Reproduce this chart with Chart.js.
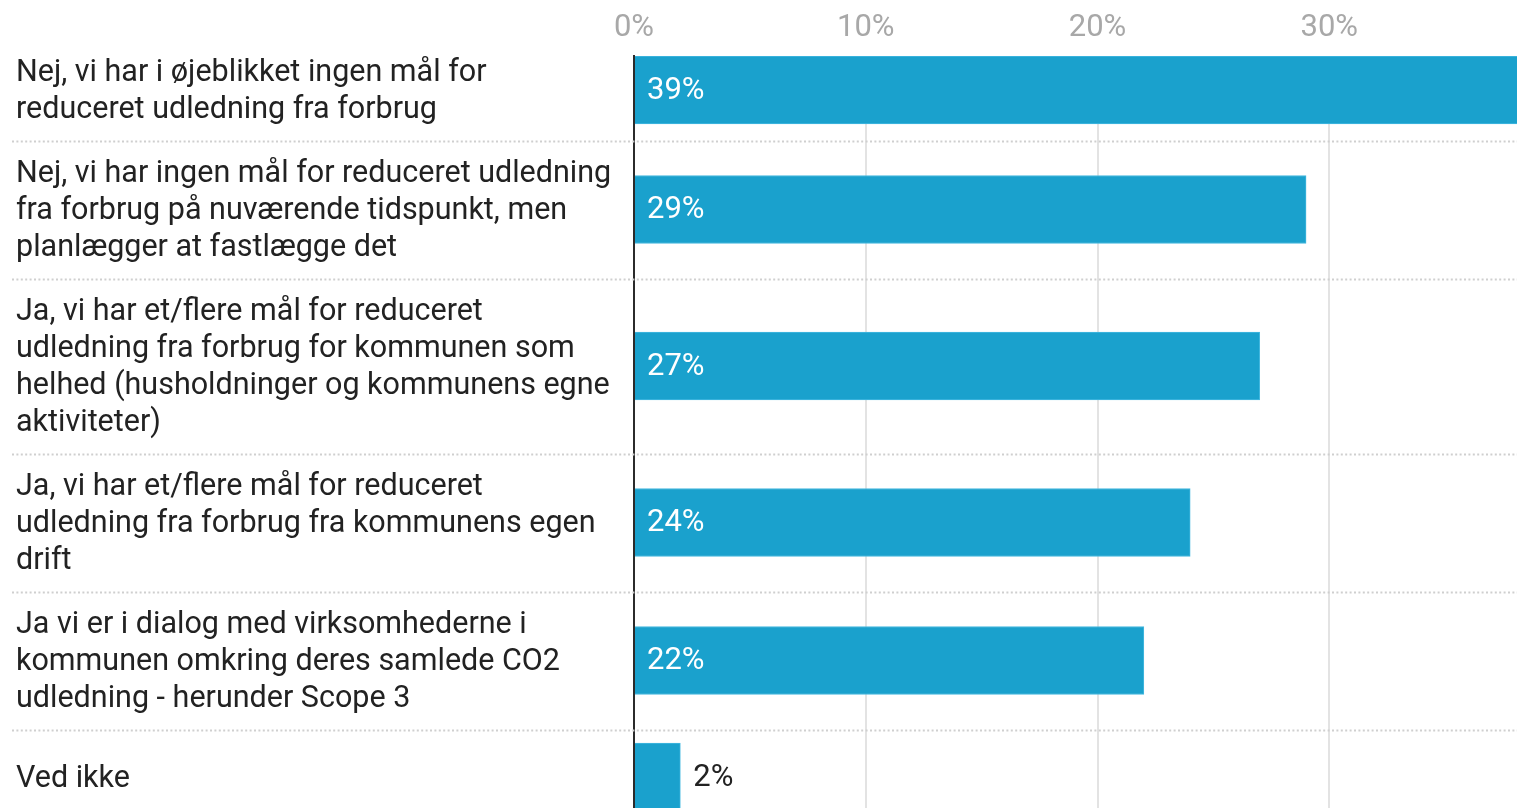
<!DOCTYPE html>
<html>
<head>
<meta charset="utf-8">
<script src="https://cdn.jsdelivr.net/npm/chart.js@4/dist/chart.umd.min.js"></script>
<style>
html, body { margin: 0; padding: 0; background: #fff; overflow: hidden; }
#wrap { width: 1600px; height: 808px; position: relative; }
</style>
</head>
<body>
<div id="wrap"><canvas id="grafico"></canvas></div>
<script>
// svarmuligheder, allerede delt op i linjer
const svar = [
    ["Nej, vi har i øjeblikket ingen mål for", "reduceret udledning fra forbrug"],
    ["Nej, vi har ingen mål for reduceret udledning", "fra forbrug på nuværende tidspunkt, men", "planlægger at fastlægge det"],
    ["Ja, vi har et/flere mål for reduceret", "udledning fra forbrug for kommunen som", "helhed (husholdninger og kommunens egne", "aktiviteter)"],
    ["Ja, vi har et/flere mål for reduceret", "udledning fra forbrug fra kommunens egen", "drift"],
    ["Ja vi er i dialog med virksomhederne i", "kommunen omkring deres samlede CO2", "udledning - herunder Scope 3"],
    ["Ved ikke"]
];
const andele = [39, 29, 27, 24, 22, 2];
const akseTicks = [0, 10, 20, 30, 40];

const linjeHoejde = 37;
const barHoejde = 68;
const raekkeLuft = 27;
const aksePlads = 56;

// højden på hver række følger antal tekstlinjer
var graenser = [0];
var midter = [];
svar.forEach(function (linjer) {
    const h = Math.max(linjer.length * linjeHoejde, barHoejde) + raekkeLuft;
    const top = graenser[graenser.length - 1];
    midter.push(top + h / 2);
    graenser.push(top + h);
});
const yMin = midter[0] - barHoejde / 2;
const yMax = yMin + 808 - aksePlads;

const skrift = "Roboto, 'Open Sans', sans-serif";

// skillelinjer mellem rækkerne + teksterne til venstre
const raekker = {
    id: 'raekker',
    beforeDatasetsDraw(chart) {
        const ctx = chart.ctx;
        const y = chart.scales.y;
        ctx.save();
        ctx.strokeStyle = '#cfcfcf';
        ctx.lineWidth = 2;
        ctx.setLineDash([2, 2.4]);
        for (let i = 1; i < graenser.length - 1; i++) {
            const py = Math.round(y.getPixelForValue(graenser[i])) + 0.5;
            ctx.beginPath();
            ctx.moveTo(12, py);
            ctx.lineTo(chart.width, py);
            ctx.stroke();
        }
        ctx.restore();
    },
    afterDraw(chart) {
        const ctx = chart.ctx;
        const y = chart.scales.y;
        ctx.save();
        ctx.font = '30.5px ' + skrift;
        ctx.fillStyle = '#222222';
        ctx.textBaseline = 'middle';
        ctx.textAlign = 'left';
        svar.forEach(function (linjer, i) {
            const cy = y.getPixelForValue(midter[i]) + 2;
            linjer.forEach(function (l, j) {
                ctx.fillText(l, 16, cy + (j - (linjer.length - 1) / 2) * linjeHoejde);
            });
        });
        ctx.restore();
    }
};

// procenttal på søjlerne
const vaerdier = {
    id: 'vaerdier',
    afterDatasetsDraw(chart) {
        const ctx = chart.ctx;
        const meta = chart.getDatasetMeta(0);
        ctx.save();
        ctx.font = '31px ' + skrift;
        ctx.textBaseline = 'middle';
        ctx.textAlign = 'left';
        meta.data.forEach(function (bar, i) {
            const tekst = andele[i] + '%';
            if (andele[i] >= 5) {
                ctx.fillStyle = '#ffffff';
                ctx.fillText(tekst, bar.base + 12, bar.y + 1);
            } else {
                ctx.fillStyle = '#222222';
                ctx.fillText(tekst, bar.x + 13, bar.y + 1);
            }
        });
        ctx.restore();
    }
};

new Chart(document.getElementById('grafico'), {
    type: 'bar',
    data: {
        datasets: [{
            data: andele.map((v, i) => ({ x: v, y: midter[i] })),
            backgroundColor: '#1aa1cd',
            borderColor: '#45b9e0',
            borderWidth: 1,
            barThickness: barHoejde
        }]
    },
    options: {
        indexAxis: 'y',
        animation: false,
        responsive: true,
        maintainAspectRatio: false,
        layout: { padding: { left: 0, right: 39, top: 0, bottom: 0 } },
        plugins: { legend: { display: false }, tooltip: { enabled: false } },
        scales: {
            x: {
                position: 'top',
                min: 0,
                max: 40,
                afterBuildTicks: s => { s.ticks = akseTicks.map(v => ({ value: v })); },
                afterFit: s => { s.height = aksePlads; },
                ticks: {
                    callback: v => v + '%',
                    color: '#a8a8a8',
                    font: { family: skrift, size: 31 },
                    padding: 9,
                    maxRotation: 0
                },
                grid: { color: '#e3e3e3', lineWidth: 2, drawTicks: false },
                border: { display: false }
            },
            y: {
                type: 'linear',
                reverse: true,
                offset: false,
                min: yMin,
                max: yMax,
                afterFit: s => { s.width = 634; },
                ticks: { display: false },
                grid: { display: false, offset: false },
                border: { display: true, color: '#2b2b2b', width: 2 }
            }
        }
    },
    plugins: [raekker, vaerdier]
});
</script>
</body>
</html>
